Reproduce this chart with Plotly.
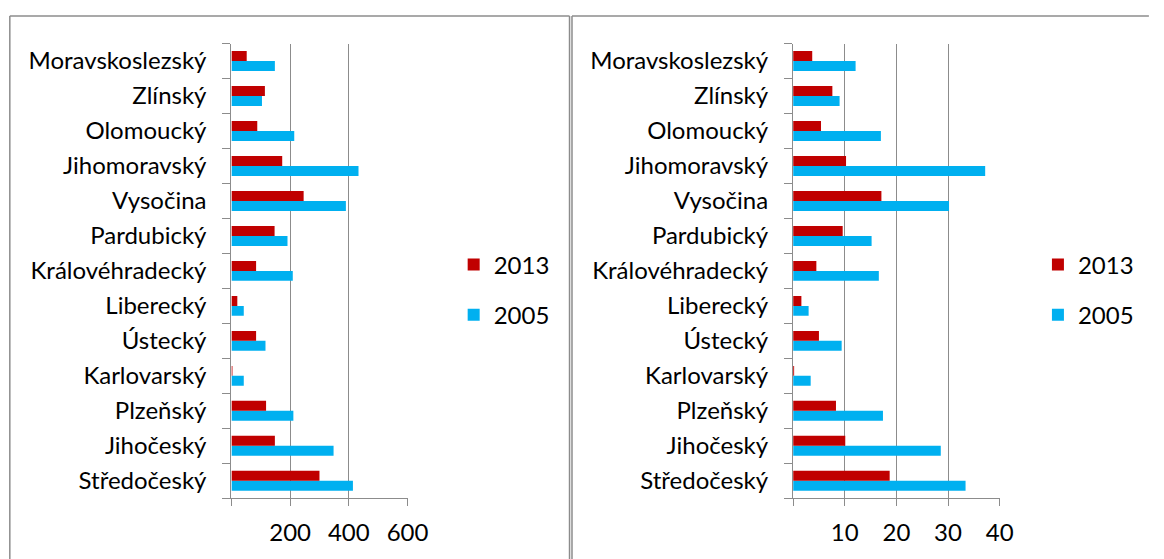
import plotly.graph_objects as go

# Regions listed bottom-to-top as they appear on the category axis
regions = ["Středočeský", "Jihočeský", "Plzeňský", "Karlovarský", "Ústecký",
           "Liberecký", "Královéhradecký", "Pardubický", "Vysočina",
           "Jihomoravský", "Olomoucký", "Zlínský", "Moravskoslezský"]

# Left chart (absolute values)
left_2013 = [300, 148, 118, 1, 84, 20, 84, 147, 246, 173, 88, 114, 52]
left_2005 = [414, 348, 211, 42, 116, 42, 209, 191, 390, 433, 214, 104, 148]

# Right chart (relative values)
right_2013 = [18.7, 10.1, 8.3, 0.1, 5.0, 1.6, 4.5, 9.6, 17.1, 10.25, 5.4, 7.6, 3.7]
right_2005 = [33.4, 28.6, 17.4, 3.4, 9.4, 3.0, 16.6, 15.2, 30.2, 37.2, 17.0, 9.0, 12.1]

left_ticks = [0, 200, 400, 600]
left_ticktext = ["", "200", "400", "600"]
right_ticks = [0, 10, 20, 30, 40]
right_ticktext = ["", "10", "20", "30", "40"]

RED = "#C00000"
BLUE = "#00B0F0"
GRID = "#8c8c8c"
FONT = "Lato"
FS = 24

W, H = 1164, 559
px = lambda v: v / W
py = lambda v: 1 - v / H

fig = go.Figure()

for xa, ya, leg, v05, v13 in [("x", "y", "legend", left_2005, left_2013),
                              ("x2", "y2", "legend2", right_2005, right_2013)]:
    fig.add_trace(go.Bar(y=regions, x=v05, orientation="h", name="2005",
                         marker=dict(color=BLUE, line=dict(width=0)),
                         xaxis=xa, yaxis=ya, legend=leg,
                         legendgroup="g05" + xa, legendrank=2))
    fig.add_trace(go.Bar(y=regions, x=v13, orientation="h", name="2013",
                         marker=dict(color=RED, line=dict(width=0)),
                         xaxis=xa, yaxis=ya, legend=leg,
                         legendgroup="g13" + xa, legendrank=1))

ydom = [py(498.3), py(43.5)]
common_x = dict(showgrid=True, gridcolor=GRID, gridwidth=1.3, zeroline=False,
                showline=True, linecolor=GRID, linewidth=1.3,
                ticks="outside", ticklen=7, tickcolor=GRID, tickwidth=1.3,
                tickfont=dict(family=FONT, size=FS, color="black"),
                ticklabelstandoff=6, fixedrange=True)
common_y = dict(type="category", categoryorder="array", categoryarray=regions,
                showline=True, linecolor=GRID, linewidth=1.3,
                ticks="outside", ticklen=8, tickcolor=GRID, tickwidth=1.3,
                tickson="boundaries", showgrid=False,
                tickfont=dict(family=FONT, size=FS, color="black"),
                ticklabelstandoff=19, domain=ydom, fixedrange=True)

legend_common = dict(font=dict(family=FONT, size=FS, color="black"),
                     traceorder="grouped", tracegroupgap=16,
                     bgcolor="rgba(0,0,0,0)", xanchor="left", yanchor="middle",
                     itemwidth=30)

fig.update_layout(
    width=W, height=H,
    margin=dict(l=0, r=0, t=0, b=0),
    paper_bgcolor="white", plot_bgcolor="white",
    barmode="group", bargap=0.43, bargroupgap=0,
    xaxis=dict(domain=[px(235.7), px(415)], range=[0, 600],
               tickvals=left_ticks, ticktext=left_ticktext, anchor="y", **common_x),
    yaxis=dict(anchor="x", **common_y),
    xaxis2=dict(domain=[px(807.7), px(1018)], range=[0, 40],
                tickvals=right_ticks, ticktext=right_ticktext, anchor="y2", **common_x),
    yaxis2=dict(anchor="x2", **common_y),
    legend=dict(x=px(462), y=py(290), **legend_common),
    legend2=dict(x=px(1057), y=py(290), **legend_common),
    showlegend=True,
)

# Panel frames
frame = dict(type="line", xref="paper", yref="paper",
             line=dict(color=GRID, width=1.5), layer="above")
fig.add_shape(x0=px(10), x1=px(10), y0=py(16), y1=py(570), **frame)
fig.add_shape(x0=px(580), x1=px(580), y0=py(16), y1=py(570), **frame)
fig.add_shape(x0=px(10), x1=px(580), y0=py(16), y1=py(16), **frame)
fig.add_shape(x0=px(582.5), x1=px(582.5), y0=py(16), y1=py(570), **frame)
fig.add_shape(x0=px(582.5), x1=px(1170), y0=py(16), y1=py(16), **frame)

fig.write_html("out.html")
